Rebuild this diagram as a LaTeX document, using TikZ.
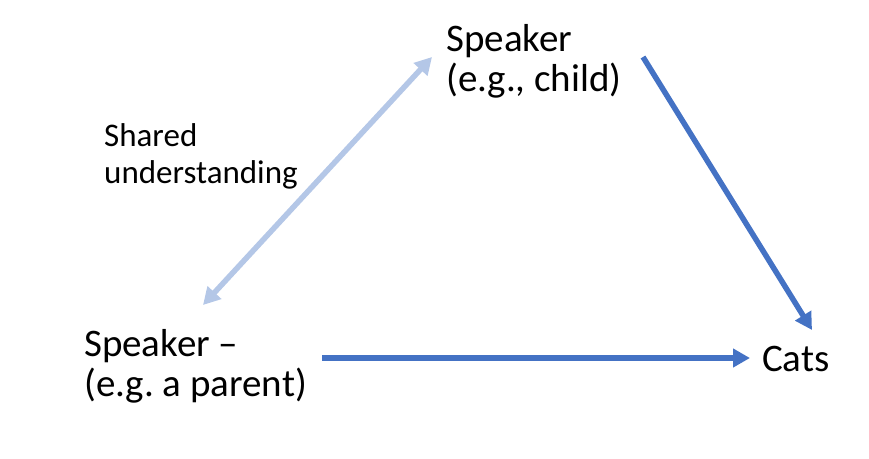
\documentclass[tikz,border=0pt]{standalone}
\usepackage{fontspec}
\setmainfont{Carlito}
\usetikzlibrary{arrows.meta,calc}
\definecolor{darkblue}{HTML}{4472C4}
\definecolor{lightblue}{HTML}{B4C7E7}
\frenchspacing
\begin{document}
\begin{tikzpicture}[x=1pt,y=-1pt,
  bigtext/.style={inner sep=0pt,anchor=base west,align=left,font=\fontsize{39}{40}\selectfont},
  smalltext/.style={inner sep=0pt,anchor=base west,align=left,font=\fontsize{33}{37}\selectfont},
  darrow/.style={draw=darkblue,line width=5.5pt,-{Triangle[length=17pt,width=18pt]}},
  larrow/.style={draw=lightblue,line width=5.5pt,{Triangle[length=17pt,width=18pt]}-{Triangle[length=17pt,width=18pt]}}]
\useasboundingbox (0,0) rectangle (869,458);
\node[bigtext] (child) at (446,91) {Speaker\\(e.g., child)};
\node[bigtext] (parent) at (84,396) {Speaker –\\(e.g. a parent)};
\node[bigtext] (cats) at (762,371) {Cats};
\node[smalltext] (shared) at (104,183) {Shared\\understanding};
\draw[larrow] ([shift={(119,-91)}]parent.base west) -- ([shift={(-14,-34)}]child.base west);
\draw[darrow] ([shift={(197,-34)}]child.base west) -- ([shift={(50,-41)}]cats.base west);
\draw[darrow] ([shift={(238,-38)}]parent.base west) -- ([shift={(-12,-13)}]cats.base west);
\end{tikzpicture}
\end{document}
